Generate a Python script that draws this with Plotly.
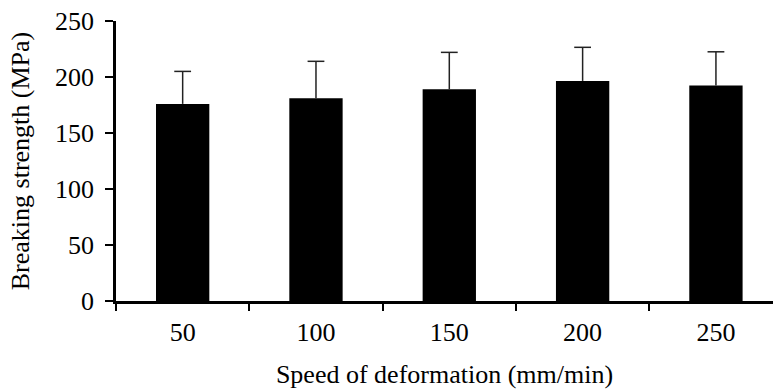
import plotly.graph_objects as go

categories = ["50", "100", "150", "200", "250"]
strength = [176, 181, 189, 196.5, 192.5]
error_up = [29, 33, 33, 30, 30]
y_ticks = [0, 50, 100, 150, 200, 250]

font_family = "Liberation Serif, Times New Roman, serif"
fs = 26

error_top = [s + e for s, e in zip(strength, error_up)]

fig = go.Figure()
fig.add_trace(go.Bar(
    x=categories,
    y=strength,
    marker=dict(color="black", line=dict(width=0)),
    error_y=dict(type="data", array=error_up, arrayminus=[0] * len(error_up),
                 symmetric=False, color="#222222", thickness=1.5, width=0),
    width=0.4,
))
# caps of the error bars
fig.add_trace(go.Scatter(
    x=categories,
    y=error_top,
    mode="markers",
    marker=dict(symbol="line-ew", size=12, line=dict(color="#222222", width=1.5)),
    hoverinfo="skip",
))

fig.update_layout(
    width=773, height=389,
    margin=dict(l=116, r=0, t=21, b=88),
    paper_bgcolor="white", plot_bgcolor="white",
    showlegend=False,
    font=dict(family=font_family, size=fs, color="black"),
    xaxis=dict(
        type="category",
        range=[-0.5, 4.428],
        showline=True, linecolor="black", linewidth=2.5,
        ticks="outside", tickson="boundaries", ticklen=7, tickwidth=2, tickcolor="black",
        showgrid=False,
        tickfont=dict(size=fs),
        ticklabelstandoff=6,
        title=dict(text="Speed of deformation (mm/min)", font=dict(size=fs), standoff=19),
    ),
    yaxis=dict(
        range=[0, 250],
        tickvals=y_ticks,
        showline=True, linecolor="black", linewidth=2.5,
        ticks="outside", ticklen=8, tickwidth=2, tickcolor="black",
        showgrid=False, zeroline=False,
        tickfont=dict(size=fs),
        ticklabelstandoff=6,
        title=dict(text="Breaking strength (MPa)", font=dict(size=fs), standoff=18),
    ),
)

fig.write_html("out.html")
